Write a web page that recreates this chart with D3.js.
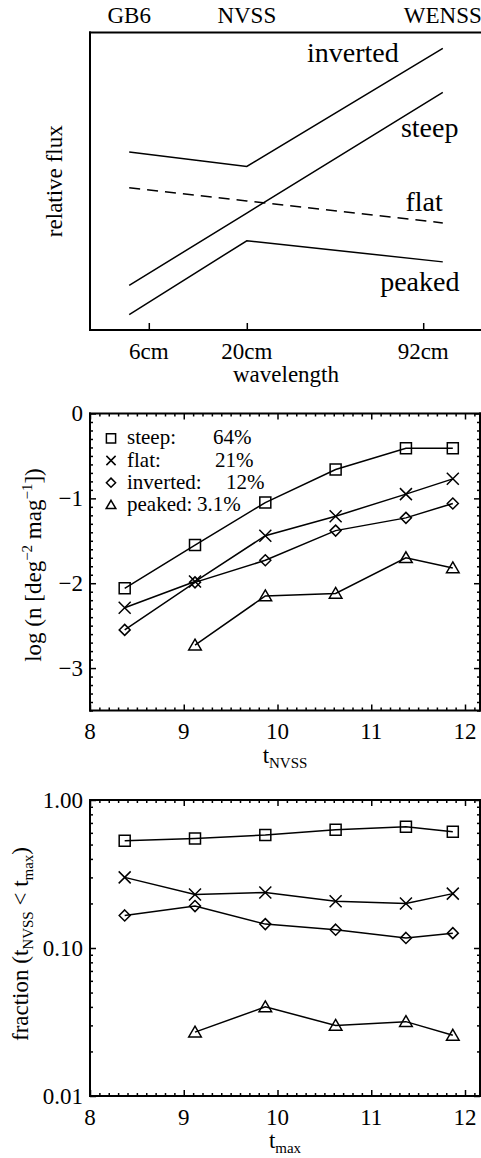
<!DOCTYPE html>
<html>
<head>
<meta charset="utf-8">
<script src="https://cdn.jsdelivr.net/npm/d3@7"></script>
<style>
  html, body { margin: 0; padding: 0; background: #fff; }
  svg { display: block; }
</style>
</head>
<body>
<svg id="fig" width="481" height="1158" font-family="'Liberation Serif', 'Times New Roman', Times, 'DejaVu Serif', serif"></svg>
<script>
// ---------- Panel 1: schematic spectra ----------
const surveys = ["GB6", "NVSS", "WENSS"];
const surveyPos = [0.8, 2.0, 4.0];          // schematic wavelength axis position
const bandLabels = ["6cm", "20cm", "92cm"];
const bandPos = [1.0, 2.0, 3.8];
const spectrumNames = ["inverted", "steep", "flat", "peaked"];
const invertedFlux = [0.598, 0.550, 0.947];
const steepFlux = [0.150, 0.393, 0.799];
const flatFlux = [0.478, 0.434, 0.360];
const peakedFlux = [0.052, 0.300, 0.229];

// ---------- Panels 2 & 3: per-bin statistics ----------
const tBins = [8.37, 9.12, 9.87, 10.62, 11.37, 11.87];
const classNames = ["steep", "flat", "inverted", "peaked"];
const classPct = ["64%", "21%", "12%", "3.1%"];
const logDensitySteep = [-2.06, -1.55, -1.05, -0.66, -0.41, -0.41];
const logDensityFlat = [-2.29, -1.98, -1.44, -1.21, -0.95, -0.77];
const logDensityInverted = [-2.55, -1.99, -1.73, -1.38, -1.23, -1.06];
const logDensityPeaked = [null, -2.73, -2.15, -2.12, -1.70, -1.82];
const fractionSteep = [0.53, 0.55, 0.58, 0.63, 0.66, 0.61];
const fractionFlat = [0.30, 0.23, 0.237, 0.207, 0.20, 0.233];
const fractionInverted = [0.166, 0.192, 0.145, 0.133, 0.117, 0.126];
const fractionPeaked = [null, 0.027, 0.040, 0.030, 0.0318, 0.0257];

const xTicks = [8, 9, 10, 11, 12];
const densityTicks = [0, -1, -2, -3];
const fractionTicks = [0.01, 0.1, 1];
const fractionTickLabels = ["0.01", "0.10", "1.00"];

// ---------- drawing ----------
const svg = d3.select("#fig");
const FS = 23, SUB = 15;
const MAJ = 6, MIN = 3;

function frame(g, x0, x1, y0, y1, sides) {
  sides.forEach(s => {
    const l = {top: [x0, y0, x1, y0], bottom: [x0, y1, x1, y1], left: [x0, y0, x0, y1], right: [x1, y0, x1, y1]}[s];
    g.append("line").attr("x1", l[0]).attr("y1", l[1]).attr("x2", l[2]).attr("y2", l[3])
      .attr("stroke", "#000").attr("stroke-width", 2).attr("stroke-linecap", "square");
  });
}

function tickSet(g, axisFn, scale, values, size) {
  g.call(axisFn(scale).tickValues(values).tickSize(size).tickFormat(""))
   .call(a => a.select(".domain").remove())
   .call(a => a.selectAll("line").attr("stroke", "#000").attr("stroke-width", 1.5));
}

function label(g, x, y, txt, size, anchor) {
  return g.append("text").attr("x", x).attr("y", y).attr("font-size", size || FS)
    .attr("text-anchor", anchor || "start").attr("fill", "#000").text(txt);
}

const marker = {
  square: s => `M${-s},${-s}H${s}V${s}H${-s}Z`,
  cross: s => `M${-s},${-s}L${s},${s}M${-s},${s}L${s},${-s}`,
  diamond: s => `M0,${-s}L${s},0L0,${s}L${-s},0Z`,
  triangle: s => `M0,${-s}L${s * 1.05},${s * 0.8}L${-s * 1.05},${s * 0.8}Z`
};
const classMarker = ["square", "cross", "diamond", "triangle"];
const markerSize = [5.5, 6, 5.5, 6];

// ===== Panel 1 =====
(function () {
  const L = 90, R = 482, T = 32.5, B = 330;
  const x = d3.scaleLinear().domain([0.4, 4.4]).range([L, R]);
  const y = d3.scaleLinear().domain([0, 1]).range([B, T]);
  const g = svg.append("g");
  frame(g, L, R, T, B, ["top", "left", "bottom"]);
  const ax = g.append("g").attr("transform", `translate(0,${B})`);
  tickSet(ax, d3.axisBottom, x, bandPos, -7);
  bandLabels.forEach((t, i) => label(g, x(bandPos[i]), B + 28.5, t, FS, "middle"));
  surveys.forEach((t, i) => label(g, x(surveyPos[i]), 22.5, t, FS, "middle"));
  label(g, (L + R) / 2, 382, "wavelength", FS, "middle");
  g.append("text").attr("transform", `translate(61.5,${(T + B) / 2}) rotate(-90)`)
    .attr("text-anchor", "middle").attr("font-size", FS).text("relative flux");

  const line = d3.line().x((d, i) => x(surveyPos[i])).y(d => y(d));
  const series = [invertedFlux, steepFlux, flatFlux, peakedFlux];
  series.forEach((s, i) => g.append("path").attr("d", line(s)).attr("fill", "none")
    .attr("stroke", "#000").attr("stroke-width", 1.5)
    .attr("stroke-dasharray", spectrumNames[i] === "flat" ? "11,7" : null));

  // curve names, right-aligned near the WENSS end
  const nameY = [0.9, 0.65, 0.40, 0.13];
  const nameX = [3.55, 4.16, 4.0, 4.17];
  spectrumNames.forEach((n, i) => label(g, x(nameX[i]), y(nameY[i]), n, 28, "end"));
})();

function dataPanel(T, B, y, tickVals, tickFmt, minorVals, seriesList) {
  const L = 90, R = 480;
  const x = d3.scaleLinear().domain([8, 8 + (R - L) / 93.75]).range([L, R]);
  const g = svg.append("g");
  const xMinor = d3.range(80, 122).map(v => v / 10).filter(v => !xTicks.includes(v));
  // bottom
  const gb = g.append("g").attr("transform", `translate(0,${B})`);
  tickSet(gb, d3.axisBottom, x, xTicks, -MAJ);
  tickSet(gb.append("g"), d3.axisBottom, x, xMinor, -MIN);
  // top
  const gt = g.append("g").attr("transform", `translate(0,${T})`);
  tickSet(gt, d3.axisTop, x, xTicks, -MAJ);
  tickSet(gt.append("g"), d3.axisTop, x, xMinor, -MIN);
  // left
  const gl = g.append("g").attr("transform", `translate(${L},0)`);
  tickSet(gl, d3.axisLeft, y, tickVals, -MAJ);
  tickSet(gl.append("g"), d3.axisLeft, y, minorVals, -MIN);
  // right
  const gr = g.append("g").attr("transform", `translate(${R},0)`);
  tickSet(gr, d3.axisRight, y, tickVals, -MAJ);
  tickSet(gr.append("g"), d3.axisRight, y, minorVals, -MIN);
  frame(g, L, R, T, B, ["top", "left", "bottom", "right"]);

  xTicks.forEach(v => label(g, x(v), B + 28.5, String(v), FS, "middle"));
  tickVals.forEach((v, i) => label(g, L - 7, y(v) + 7.5, tickFmt(v, i), FS, "end"));

  const line = d3.line().defined(d => d != null).x((d, i) => x(tBins[i])).y(d => y(d));
  seriesList.forEach((s, k) => {
    g.append("path").attr("d", line(s)).attr("fill", "none").attr("stroke", "#000").attr("stroke-width", 1.5);
    g.selectAll(null).data(s.map((v, i) => [tBins[i], v]).filter(d => d[1] != null)).enter()
      .append("path").attr("transform", d => `translate(${x(d[0])},${y(d[1])})`)
      .attr("d", marker[classMarker[k]](markerSize[k])).attr("fill", "none")
      .attr("stroke", "#000").attr("stroke-width", 1.5);
  });
  return {g, x, y, L, R};
}

// ===== Panel 2 =====
(function () {
  const T = 413.5, B = 710.5;
  const y = d3.scaleLinear().domain([-3.5, 0]).range([B, T]);
  const minor = d3.range(-35, 1).map(v => v / 10).filter(v => !densityTicks.includes(v));
  const p = dataPanel(T, B, y, densityTicks, v => v === 0 ? "0" : "\u2212" + Math.abs(v), minor,
    [logDensitySteep, logDensityFlat, logDensityInverted, logDensityPeaked]);
  const g = p.g;
  const xl = label(g, (p.L + p.R) / 2, 763, "", FS, "middle");
  xl.append("tspan").text("t");
  xl.append("tspan").attr("font-size", SUB).attr("dy", 5).text("NVSS");
  const yl = g.append("text").attr("transform", `translate(41,565) rotate(-90)`).attr("text-anchor", "middle").attr("font-size", FS);
  yl.append("tspan").text("log (n [deg");
  yl.append("tspan").attr("font-size", SUB).attr("dy", -9).text("\u22122");
  yl.append("tspan").attr("dy", 9).text(" mag");
  yl.append("tspan").attr("font-size", SUB).attr("dy", -9).text("\u22121");
  yl.append("tspan").attr("dy", 9).text("])");

  // legend: symbol, class name and its share of the sample
  const lx = 111, ly0 = 438.3, dyRow = 22.2, LFS = 21;
  const valueX = [213, 215, 226, 197];
  classNames.forEach((n, i) => {
    const cy = ly0 + i * dyRow;
    g.append("path").attr("transform", `translate(${lx},${cy})`).attr("d", marker[classMarker[i]](4.6))
      .attr("fill", "none").attr("stroke", "#000").attr("stroke-width", 1.5);
    const t = label(g, 127, cy + 6, "", LFS);
    t.append("tspan").text(n + ":");
    t.append("tspan").attr("x", valueX[i]).text(classPct[i]);
  });
})();

// ===== Panel 3 =====
(function () {
  const T = 800, B = 1096;
  const y = d3.scaleLog().domain([0.01, 1]).range([B, T]);
  const minor = [];
  [0.01, 0.1].forEach(d => d3.range(2, 10).forEach(m => minor.push(d * m)));
  const p = dataPanel(T, B, y, fractionTicks, (v, i) => fractionTickLabels[i], minor,
    [fractionSteep, fractionFlat, fractionInverted, fractionPeaked]);
  const g = p.g;
  const xl = label(g, (p.L + p.R) / 2, 1148, "", FS, "middle");
  xl.append("tspan").text("t");
  xl.append("tspan").attr("font-size", SUB).attr("dy", 5).text("max");
  const yl = g.append("text").attr("transform", `translate(27.5,944) rotate(-90)`).attr("text-anchor", "middle").attr("font-size", FS);
  yl.append("tspan").text("fraction (t");
  yl.append("tspan").attr("font-size", SUB).attr("dy", 5).text("NVSS");
  yl.append("tspan").attr("dy", -5).text(" < t");
  yl.append("tspan").attr("font-size", SUB).attr("dy", 5).text("max");
  yl.append("tspan").attr("dy", -5).text(")");
})();
</script>
</body>
</html>
